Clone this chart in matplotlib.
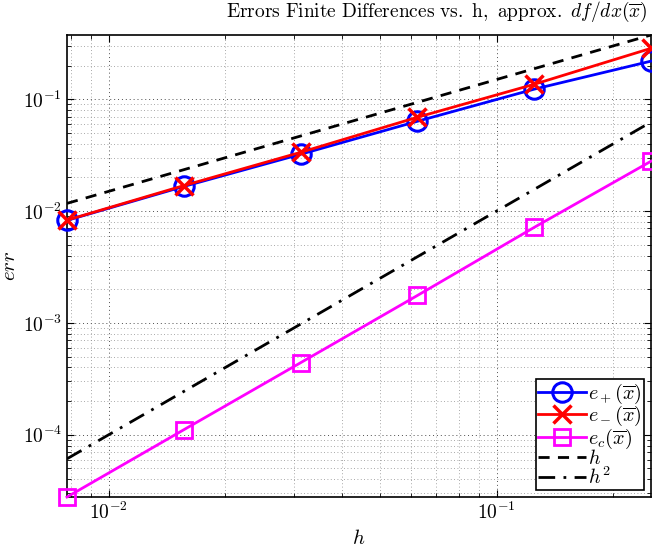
import numpy as np
import matplotlib
matplotlib.use("Agg")
import matplotlib.pyplot as plt
from matplotlib.ticker import FuncFormatter, LogLocator, NullFormatter

plt.rcParams['mathtext.fontset'] = 'cm'
plt.rcParams['font.family'] = ['DejaVu Serif']

# Data
h = [2**-7, 2**-6, 2**-5, 2**-4, 2**-3, 2**-2]
e_plus = [0.00826, 0.0166, 0.0322, 0.0635, 0.123, 0.219]
e_minus = [0.0083, 0.0169, 0.0335, 0.069, 0.136, 0.285]
e_c = [2.78e-5, 1.11e-4, 4.41e-4, 1.76e-3, 7.15e-3, 0.0279]
ref_h = [1.5 * v for v in h]
ref_h2 = [v ** 2 for v in h]

fig = plt.figure(figsize=(6.52, 5.5), dpi=100)
ax = fig.add_axes([67/652, 1-497/550, (651-67)/652, (497-35)/550])

ax.loglog(h, e_plus, '-o', color='blue', lw=2, ms=14, mfc='none', mew=2.2,
          label=r'$e_+(\overline{x})$', zorder=4, clip_on=False)
ax.loglog(h, e_minus, '-x', color='red', lw=2, ms=13, mew=2.5,
          label=r'$e_-(\overline{x})$', zorder=5, clip_on=False)
ax.loglog(h, e_c, '-s', color='magenta', lw=2, ms=12, mfc='none', mew=2,
          label=r'$e_c(\overline{x})$', zorder=4, clip_on=False)
ax.loglog(h, ref_h, '--', color='black', lw=2, dashes=(4, 3), label=r'$h$', zorder=3)
ax.loglog(h, ref_h2, '-.', color='black', lw=2, dashes=(6, 3, 1, 3), label=r'$h^2$', zorder=3)

ax.set_xlim(h[0], h[-1])
ax.set_ylim(min(e_c), max(ref_h))

fmt = FuncFormatter(lambda v, p: r'$10^{%d}$' % int(round(np.log10(v))))
ax.xaxis.set_major_formatter(fmt)
ax.yaxis.set_major_formatter(fmt)
ax.xaxis.set_minor_formatter(NullFormatter())
ax.yaxis.set_minor_formatter(NullFormatter())
ax.xaxis.set_minor_locator(LogLocator(base=10, subs=np.arange(2, 10), numticks=20))
ax.yaxis.set_minor_locator(LogLocator(base=10, subs=np.arange(2, 10), numticks=20))

ax.tick_params(which='both', direction='in', top=True, right=True, labelsize=14)
ax.tick_params(which='major', length=5, width=0.8)
ax.tick_params(which='minor', length=3, width=0.6)

ax.grid(True, which='major', linestyle=(0, (1, 3)), color='0.3', lw=0.7)
ax.grid(True, which='minor', linestyle=(0, (1, 3)), color='0.55', lw=0.6)
for s in ax.spines.values():
    s.set_linewidth(1.2)

ax.set_xlabel(r'$h$', fontsize=15, labelpad=4)
ax.set_ylabel(r'$err$', fontsize=15)
ax.yaxis.set_label_coords(-0.083, 0.5)

fig.text(437/652, 1-12/550,
         r'$\mathrm{Errors\ Finite\ Differences\ vs.\ h,\ approx.}\ df/dx(\overline{x})$',
         ha='center', va='center', fontsize=14)

leg = ax.legend(loc='lower right', fontsize=14.5, numpoints=1, handlelength=2.4,
                handletextpad=0.1, borderpad=0.1, labelspacing=-0.08,
                fancybox=False, framealpha=1, edgecolor='black', borderaxespad=0.35)
leg.get_frame().set_linewidth(1.2)
leg.set_zorder(10)

fig.savefig('out.png', dpi=100)
